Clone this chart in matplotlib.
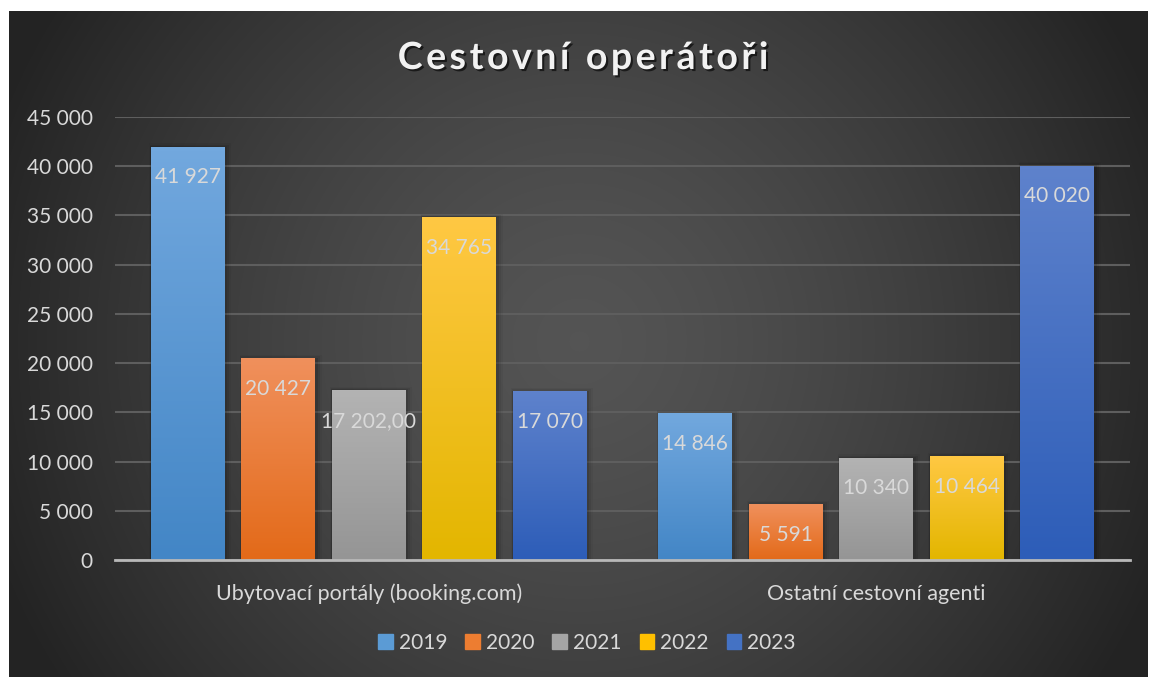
import numpy as np
import matplotlib.pyplot as plt
import matplotlib.patheffects as pe
from matplotlib.colors import LinearSegmentedColormap

plt.rcParams['font.family'] = ['Lato', 'DejaVu Sans']

# data
categories = ['Ubytovací portály (booking.com)', 'Ostatní cestovní agenti']
years = ['2019', '2020', '2021', '2022', '2023']
v2019 = [41927, 14846]
v2020 = [20427, 5591]
v2021 = [17202, 10340]
v2022 = [34765, 10464]
v2023 = [17070, 40020]
labels2019 = ['41 927', '14 846']
labels2020 = ['20 427', '5 591']
labels2021 = ['17 202,00', '10 340']
labels2022 = ['34 765', '10 464']
labels2023 = ['17 070', '40 020']
yticks = [0, 5000, 10000, 15000, 20000, 25000, 30000, 35000, 40000, 45000]
ytick_labels = ['0', '5 000', '10 000', '15 000', '20 000', '25 000',
                '30 000', '35 000', '40 000', '45 000']
title = 'Cestovní operátoři'

series = [v2019, v2020, v2021, v2022, v2023]
series_labels = [labels2019, labels2020, labels2021, labels2022, labels2023]
# (top colour, bottom colour) for each year
grads = [('#72a8de', '#4386c6'),
         ('#f0905c', '#e36a19'),
         ('#b3b3b3', '#959595'),
         ('#ffc843', '#e3b600'),
         ('#5e82cc', '#2d5db8')]
legend_colors = ['#5b9bd5', '#ed7d31', '#a5a5a5', '#ffc000', '#4472c4']

W, H = 1149, 677
fig = plt.figure(figsize=(W / 100, H / 100), dpi=100)
fig.patch.set_facecolor('white')

# radial background
bg = fig.add_axes([9 / W, 0, (1148 - 9) / W, (677 - 11) / H])
bg.set_axis_off()
yy, xx = np.mgrid[0:666, 0:1139]
r = np.sqrt(((xx - 570) / 620.0) ** 2 + ((yy - 330) / 620.0) ** 2)
r = np.clip(r, 0, 1)
shade = 0.33 - 0.19 * r ** 1.4
bg.imshow(np.dstack([shade, shade, shade]), aspect='auto',
          extent=[0, 1, 0, 1], interpolation='bilinear')
bg.set_xlim(0, 1)
bg.set_ylim(0, 1)

ax = fig.add_axes([115 / W, 1 - 560 / H, (1130 - 115) / W, (560 - 117) / H])
ax.patch.set_alpha(0)

x = np.arange(len(categories))
width = 0.1458
step = 0.1783
txt_color = '#d9d9d9'

for i, vals in enumerate(series):
    pos = x + (i - 2) * step
    bars = ax.bar(pos, vals, width, color=legend_colors[i], zorder=3,
                  label=years[i])
    cmap = LinearSegmentedColormap.from_list('g%d' % i, [grads[i][1], grads[i][0]])
    for b, lab in zip(bars, series_labels[i]):
        bx, bw, bh = b.get_x(), b.get_width(), b.get_height()
        # soft shadow behind the bar
        for k, a in enumerate([0.10, 0.07, 0.04]):
            off = 0.004 + 0.003 * k
            ax.add_patch(plt.Rectangle((bx - off * 0.3, 0), bw + off * 1.6, bh + 130 * (k + 1),
                                       color='black', alpha=a, lw=0, zorder=2))
        ax.imshow(np.linspace(0, 1, 100).reshape(-1, 1)[::-1], cmap=cmap,
                  extent=[bx, bx + bw, 0, bh], aspect='auto', zorder=3.5,
                  interpolation='bilinear')
        ax.annotate(lab, (bx + bw / 2, bh), xytext=(0, -20),
                    textcoords='offset pixels', ha='center', va='top',
                    color=txt_color, fontsize=15, zorder=5)

ax.set_xlim(-0.5, 1.5)
ax.set_ylim(0, 45000)
ax.set_yticks(yticks)
ax.set_yticklabels(ytick_labels)
ax.set_xticks(x)
ax.set_xticklabels(categories)
ax.tick_params(axis='y', length=0, pad=16, labelsize=15, labelcolor=txt_color)
ax.tick_params(axis='x', length=0, pad=17, labelsize=15.5, labelcolor=txt_color)
ax.grid(axis='y', color='#5e5e5e', lw=1.5, zorder=1)
for s in ['top', 'right', 'left']:
    ax.spines[s].set_visible(False)
ax.spines['bottom'].set_color('#b8b8b8')
ax.spines['bottom'].set_linewidth(2)
ax.spines['bottom'].set_zorder(4)

# title with extra letter spacing, drawn one character at a time
renderer = fig.canvas.get_renderer()
tprops = dict(fontsize=27, fontweight='bold', color='#f2f2f2',
              path_effects=[pe.withSimplePatchShadow(offset=(1.5, -1.5), alpha=0.6,
                                                     shadow_rgbFace='black')])
char_w = []
for ch in title:
    t = fig.text(0, 0, ch if ch != ' ' else 'i', **tprops)
    char_w.append(t.get_window_extent(renderer).width)
    t.remove()
spacing = 3.5
total = sum(char_w) + spacing * (len(title) - 1)
xpos = 583 - total / 2
for ch, cw in zip(title, char_w):
    if ch != ' ':
        fig.text(xpos / W, 1 - 58 / H, ch, ha='left', va='center', **tprops)
    xpos += cw + spacing

leg = fig.legend(loc='center', bbox_to_anchor=(0.511, 1 - 643 / H), ncol=5,
                 frameon=False, fontsize=15, labelcolor=txt_color,
                 handlelength=0.7, handleheight=0.7, handletextpad=0.3,
                 columnspacing=0.85)
for h, c in zip(leg.legend_handles, legend_colors):
    h.set_color(c)

fig.savefig('out.png', dpi=100, facecolor='white')
